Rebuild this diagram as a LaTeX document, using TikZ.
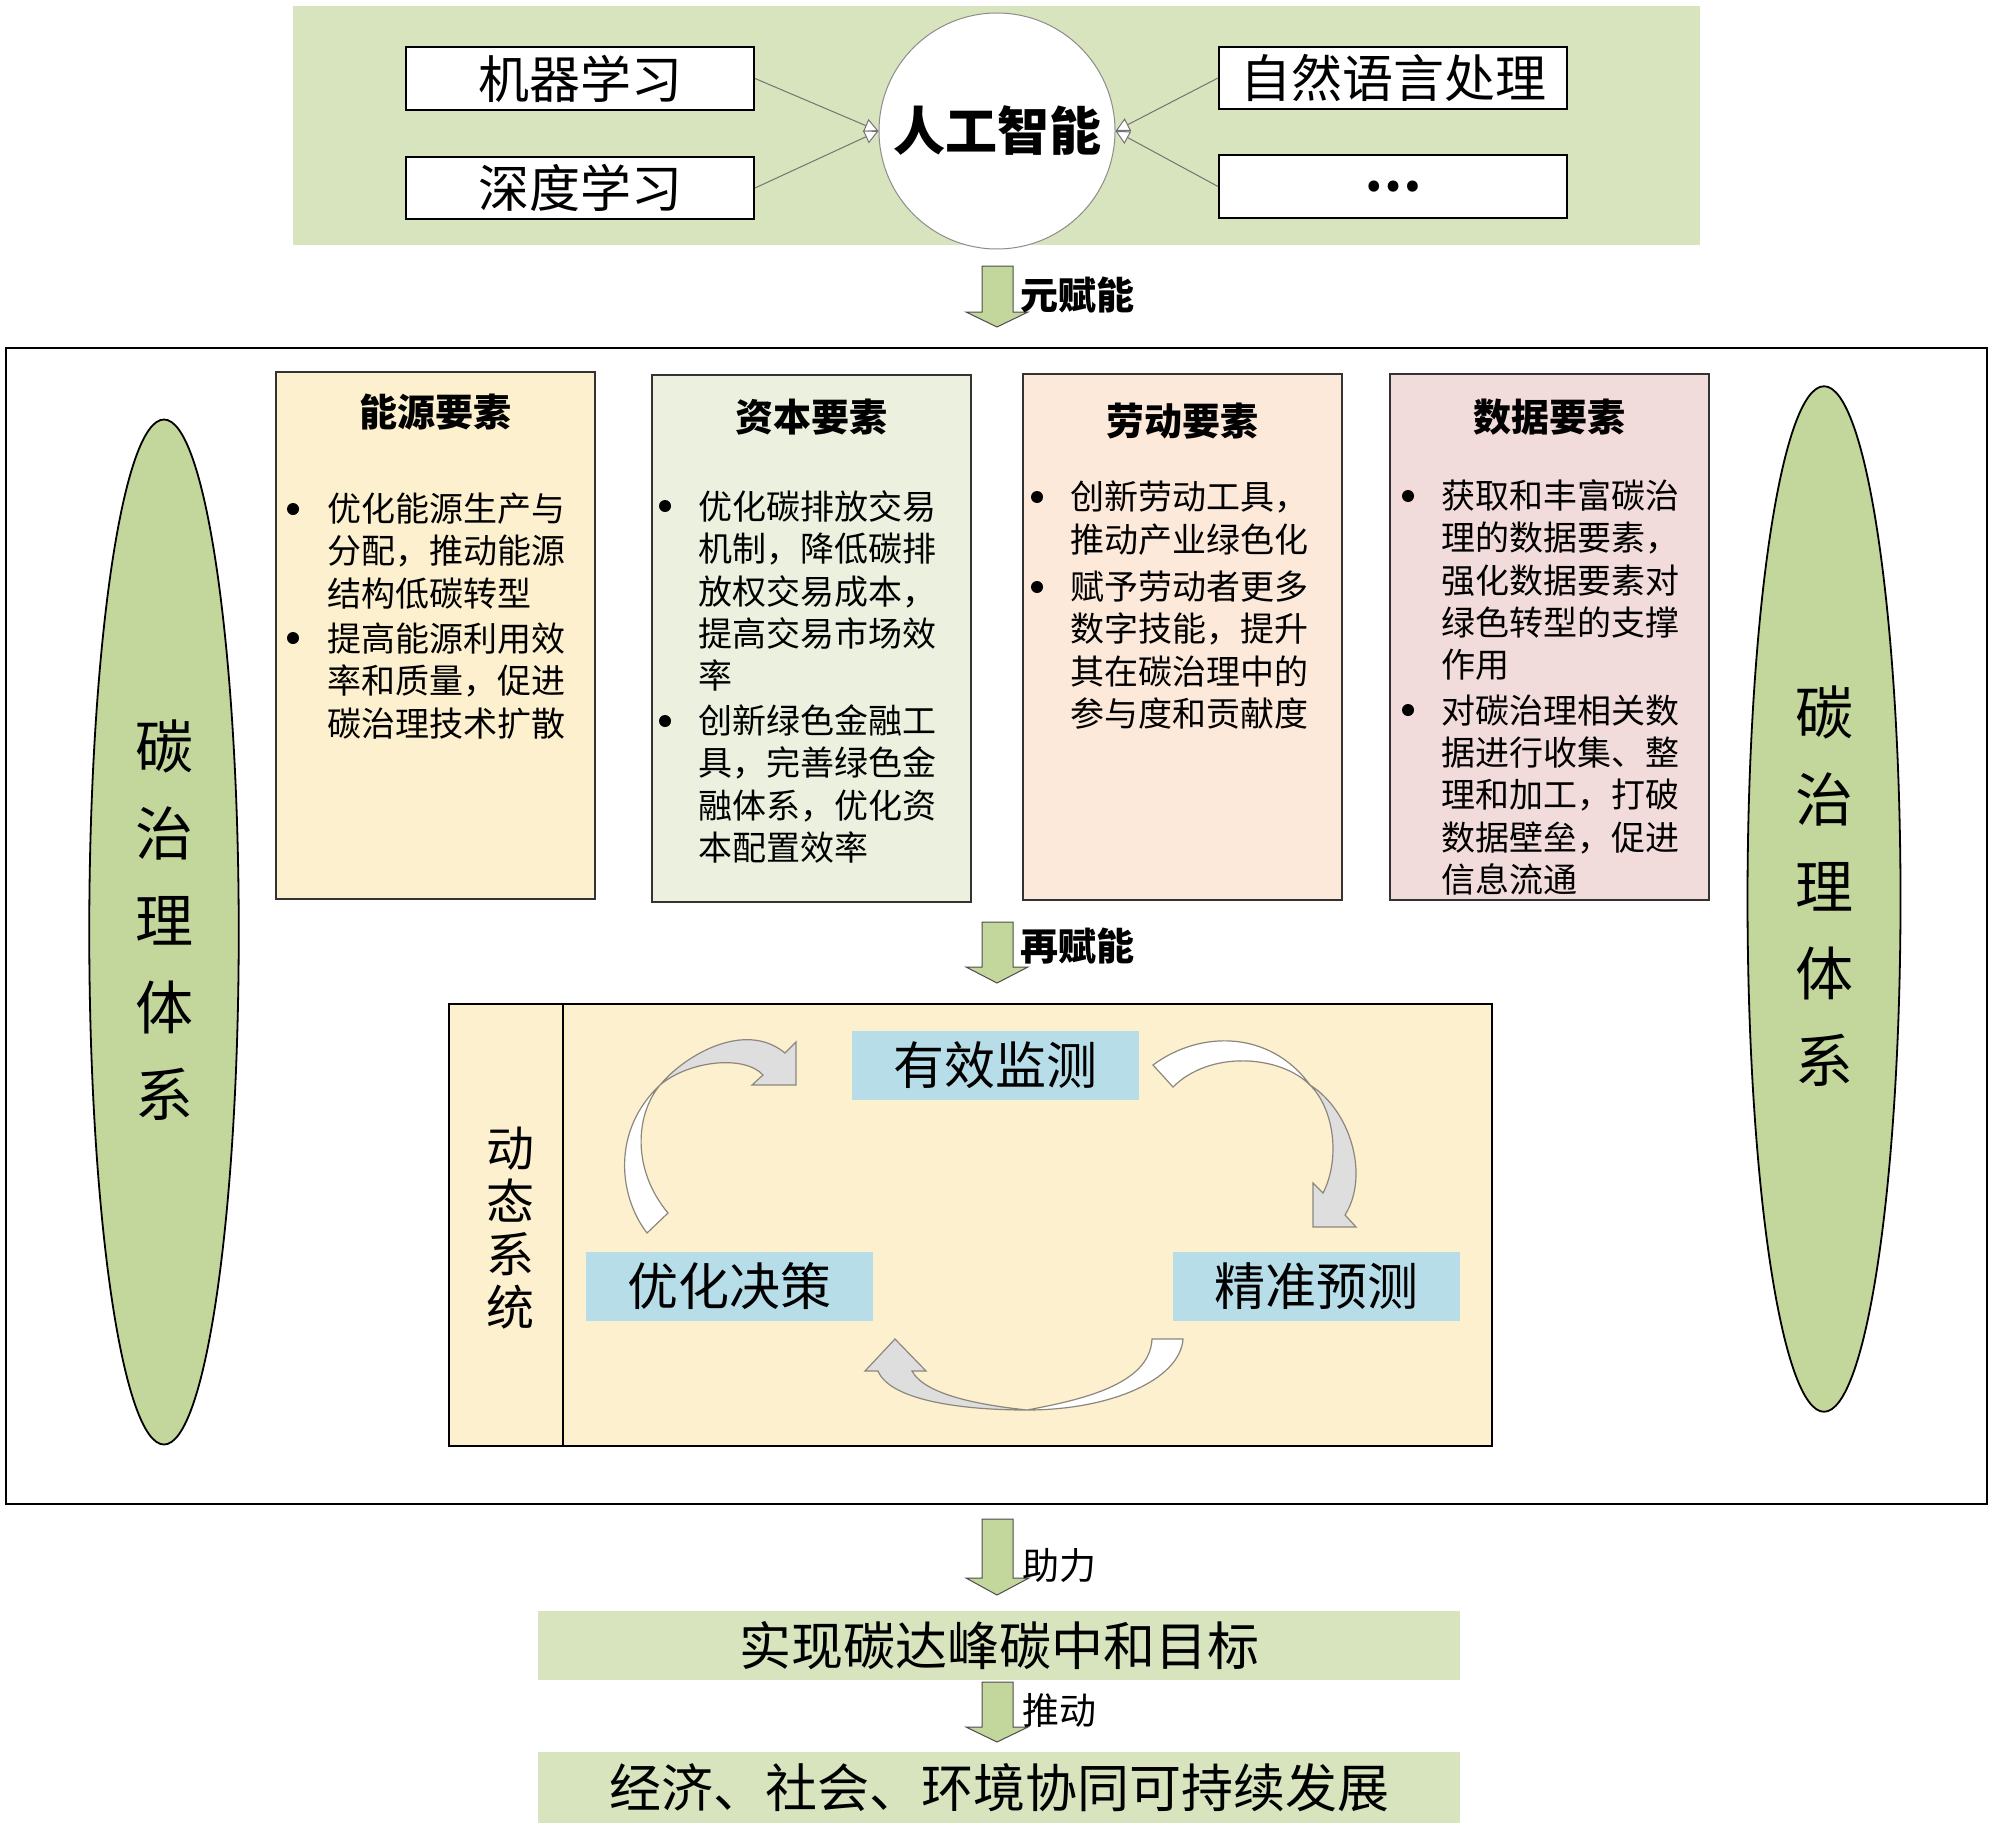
\documentclass[tikz,border=0pt]{standalone}
\usepackage{fontspec}
\setmainfont{Noto Sans CJK SC}
\usetikzlibrary{arrows.meta,shapes.geometric}
\definecolor{bandgreen}{HTML}{D7E4BD}
\definecolor{ellgreen}{HTML}{C3D69B}
\definecolor{arrgreen}{HTML}{C3D69B}
\definecolor{goldfill}{HTML}{FDF0CE}
\definecolor{olivefill}{HTML}{EBF1DE}
\definecolor{orangefill}{HTML}{FDE9D9}
\definecolor{redfill}{HTML}{F2DCDB}
\definecolor{bluefill}{HTML}{B7DEE8}
\definecolor{curvgray}{HTML}{DEDEDE}
\definecolor{curvline}{HTML}{8C877E}
\newcommand\myind{\hspace*{33pt}}
\begin{document}
\begin{tikzpicture}[x=0.5pt,y=-0.5pt,
  topbox/.style={draw=black, line width=1pt, fill=white, minimum width=174pt, minimum height=31.5pt, inner sep=0, font=\fontsize{25.5}{30}\selectfont},
  elbox/.style={draw=black!80, line width=0.8pt, minimum width=159.5pt, minimum height=263.5pt, inner sep=0},
  eltitle/.style={inner sep=0, font=\fontsize{19}{22}\selectfont\bfseries},
  eltext/.style={anchor=west, align=left, inner sep=0, font=\fontsize{17}{21.15}\selectfont},
  bul/.style={circle, fill=black, minimum size=6pt, inner sep=0},
  bluebox/.style={fill=bluefill, minimum width=143.5pt, minimum height=34.5pt, inner sep=0, font=\fontsize{25.5}{30}\selectfont},
  greenbar/.style={fill=bandgreen, minimum width=461pt, inner sep=0, font=\fontsize{26}{30}\selectfont},
  bigarrow/.style={fill=arrgreen, draw=black!70, line width=0.5pt},
  feed/.style={draw=black!55, line width=0.5pt, -{Triangle[length=7pt,width=7pt,fill=white]}},
  curvw/.style={fill=white, draw=curvline, line width=0.6pt},
  curvg/.style={fill=curvgray, draw=curvline, line width=0.6pt},
  vtext/.style={align=center, inner sep=0, font=\fontsize{29}{43.5}\selectfont},
  arrlab/.style={anchor=west, inner sep=0, font=\fontsize{19}{22}\selectfont\bfseries},
  arrlabr/.style={anchor=west, inner sep=0, font=\fontsize{18.5}{22}\selectfont}
]
\useasboundingbox (0,0) rectangle (2000,1835);

% ---------- top band ----------
\node[fill=bandgreen, minimum width=703.5pt, minimum height=119.5pt, inner sep=0] (band) at (996.5,125.5) {};
\node[topbox] (ml) at (580,78.5) {机器学习};
\node[topbox, minimum height=31pt] (dl) at (580,188) {深度学习};
\node[topbox, minimum height=31pt] (nlp) at (1393,78) {自然语言处理};
\node[topbox] (etc) at (1393,186.5) {\textbf{…}};
\node[circle, draw=black!45, line width=0.5pt, fill=white, minimum size=118pt, inner sep=0, font=\fontsize{26}{30}\selectfont\bfseries] (ai) at (997,131) {人工智能};
\draw[feed] (ml.east) -- (ai.west);
\draw[feed] (dl.east) -- (ai.west);
\draw[feed] (nlp.west) -- (ai.east);
\draw[feed] (etc.west) -- (ai.east);

% arrow 元赋能
\filldraw[bigarrow] (982,266) -- (1013,266) -- (1013,312) -- (1028,312) -- (997,327) -- (966,312) -- (982,312) -- cycle;
\node[arrlab] (l1) at (1020,295) {元赋能};

% ---------- main frame ----------
\node[draw=black, line width=1pt, minimum width=990.5pt, minimum height=578pt, inner sep=0] (frame) at (996.5,926) {};

\node[ellipse, draw=black, line width=0.9pt, fill=ellgreen, minimum width=74.75pt, minimum height=512.5pt, inner sep=0] (lell) at (164,932) {};
\node[vtext] (ltxt) at (164,920) {碳\\治\\理\\体\\系};
\node[ellipse, draw=black, line width=0.9pt, fill=ellgreen, minimum width=76.5pt, minimum height=512.75pt, inner sep=0] (rell) at (1824,899) {};
\node[vtext] (rtxt) at (1824,886) {碳\\治\\理\\体\\系};

% element boxes
\node[elbox, fill=goldfill] (e1) at (435.5,635.5) {};
\node[elbox, fill=olivefill] (e2) at (811.5,638.5) {};
\node[elbox, fill=orangefill, minimum height=263pt] (e3) at (1182.5,637) {};
\node[elbox, fill=redfill, minimum height=263pt] (e4) at (1549.5,637) {};

\node[eltitle] (t1) at (435.5,412) {能源要素};
\node[eltitle] (t2) at (811.5,417) {资本要素};
\node[eltitle] (t3) at (1182.5,421) {劳动要素};
\node[eltitle] (t4) at (1549.5,417) {数据要素};

\node[eltext] (e1a) at (261,551) {\myind 优化能源生产与\\\myind 分配，推动能源\\\myind 结构低碳转型};
\node[eltext] (e1b) at (261,681) {\myind 提高能源利用效\\\myind 率和质量，促进\\\myind 碳治理技术扩散};
\node[bul] (b1a) at (293,509) {};
\node[bul] (b1b) at (293,638) {};

\node[eltext] (e2a) at (632,591) {\myind 优化碳排放交易\\\myind 机制，降低碳排\\\myind 放权交易成本，\\\myind 提高交易市场效\\\myind 率};
\node[eltext] (e2b) at (632,784) {\myind 创新绿色金融工\\\myind 具，完善绿色金\\\myind 融体系，优化资\\\myind 本配置效率};
\node[bul] (b2a) at (665,506) {};
\node[bul] (b2b) at (665,721) {};

\node[eltext] (e3a) at (1004,518) {\myind 创新劳动工具，\\\myind 推动产业绿色化};
\node[eltext] (e3b) at (1004,650) {\myind 赋予劳动者更多\\\myind 数字技能，提升\\\myind 其在碳治理中的\\\myind 参与度和贡献度};
\node[bul] (b3a) at (1037,497) {};
\node[bul] (b3b) at (1037,587) {};

\node[eltext] (e4a) at (1375,580) {\myind 获取和丰富碳治\\\myind 理的数据要素，\\\myind 强化数据要素对\\\myind 绿色转型的支撑\\\myind 作用};
\node[eltext] (e4b) at (1375,795) {\myind 对碳治理相关数\\\myind 据进行收集、整\\\myind 理和加工，打破\\\myind 数据壁垒，促进\\\myind 信息流通};
\node[bul] (b4a) at (1408,496) {};
\node[bul] (b4b) at (1408,710) {};

% arrow 再赋能
\filldraw[bigarrow] (982,922) -- (1013,922) -- (1013,967) -- (1028,967) -- (997,983) -- (966,967) -- (982,967) -- cycle;
\node[arrlab] (l2) at (1020,946) {再赋能};

% dynamic system
\node[draw=black, line width=0.8pt, fill=goldfill, minimum width=521.5pt, minimum height=221pt, inner sep=0] (dyn) at (970.5,1225) {};
\draw[line width=0.8pt] ([xshift=57.5pt]dyn.north west) -- ([xshift=57.5pt]dyn.south west);
\node[align=center, inner sep=0, font=\fontsize{24}{26.5}\selectfont] (dtxt) at (510,1228) {动\\态\\系\\统};

\node[bluebox] (mon) at (995.5,1065.5) {有效监测};
\node[bluebox] (dec) at (729,1286) {优化决策};
\node[bluebox] (pred) at (1316.5,1286) {精准预测};

% curved arrows
\filldraw[curvw] (647,1233) .. controls (618,1195) and (612,1130) .. (660,1085) .. controls (635,1115) and (632,1170) .. (668,1213) -- cycle;
\filldraw[curvg] (660,1085) .. controls (685,1055) and (745,1020) .. (785,1053) -- (796,1042) -- (796,1085) -- (752,1085) -- (763,1075) .. controls (745,1055) and (690,1060) .. (660,1085) -- cycle;

\filldraw[curvw] (1153,1065) .. controls (1200,1030) and (1270,1030) .. (1310,1085) .. controls (1280,1055) and (1210,1050) .. (1173,1087) -- cycle;
\filldraw[curvg] (1310,1085) .. controls (1350,1110) and (1370,1175) .. (1345,1215) -- (1356,1227) -- (1313,1227) -- (1313,1183) -- (1323,1193) .. controls (1340,1160) and (1335,1110) .. (1310,1085) -- cycle;

\filldraw[curvw] (1183,1339) .. controls (1180,1380) and (1110,1410) .. (1027,1410) .. controls (1080,1400) and (1150,1385) .. (1152,1339) -- cycle;
\filldraw[curvg] (1027,1410) .. controls (960,1410) and (890,1400) .. (878,1371) -- (865,1371) -- (895,1339) -- (926,1371) -- (912,1371) .. controls (925,1395) and (980,1405) .. (1027,1410) -- cycle;

% ---------- bottom ----------
\filldraw[bigarrow] (982,1519) -- (1013,1519) -- (1013,1578) -- (1029,1578) -- (997,1595) -- (966,1578) -- (982,1578) -- cycle;
\node[arrlabr] (l3) at (1022,1565) {助力};

\node[greenbar, minimum height=34.5pt] (goal) at (999,1645.5) {实现碳达峰碳中和目标};

\filldraw[bigarrow] (982,1682) -- (1013,1682) -- (1013,1727) -- (1028,1727) -- (997,1742) -- (966,1727) -- (982,1727) -- cycle;
\node[arrlabr] (l4) at (1022,1710) {推动};

\node[greenbar, minimum height=35.5pt] (dev) at (999,1787.5) {经济、社会、环境协同可持续发展};
\end{tikzpicture}
\end{document}
